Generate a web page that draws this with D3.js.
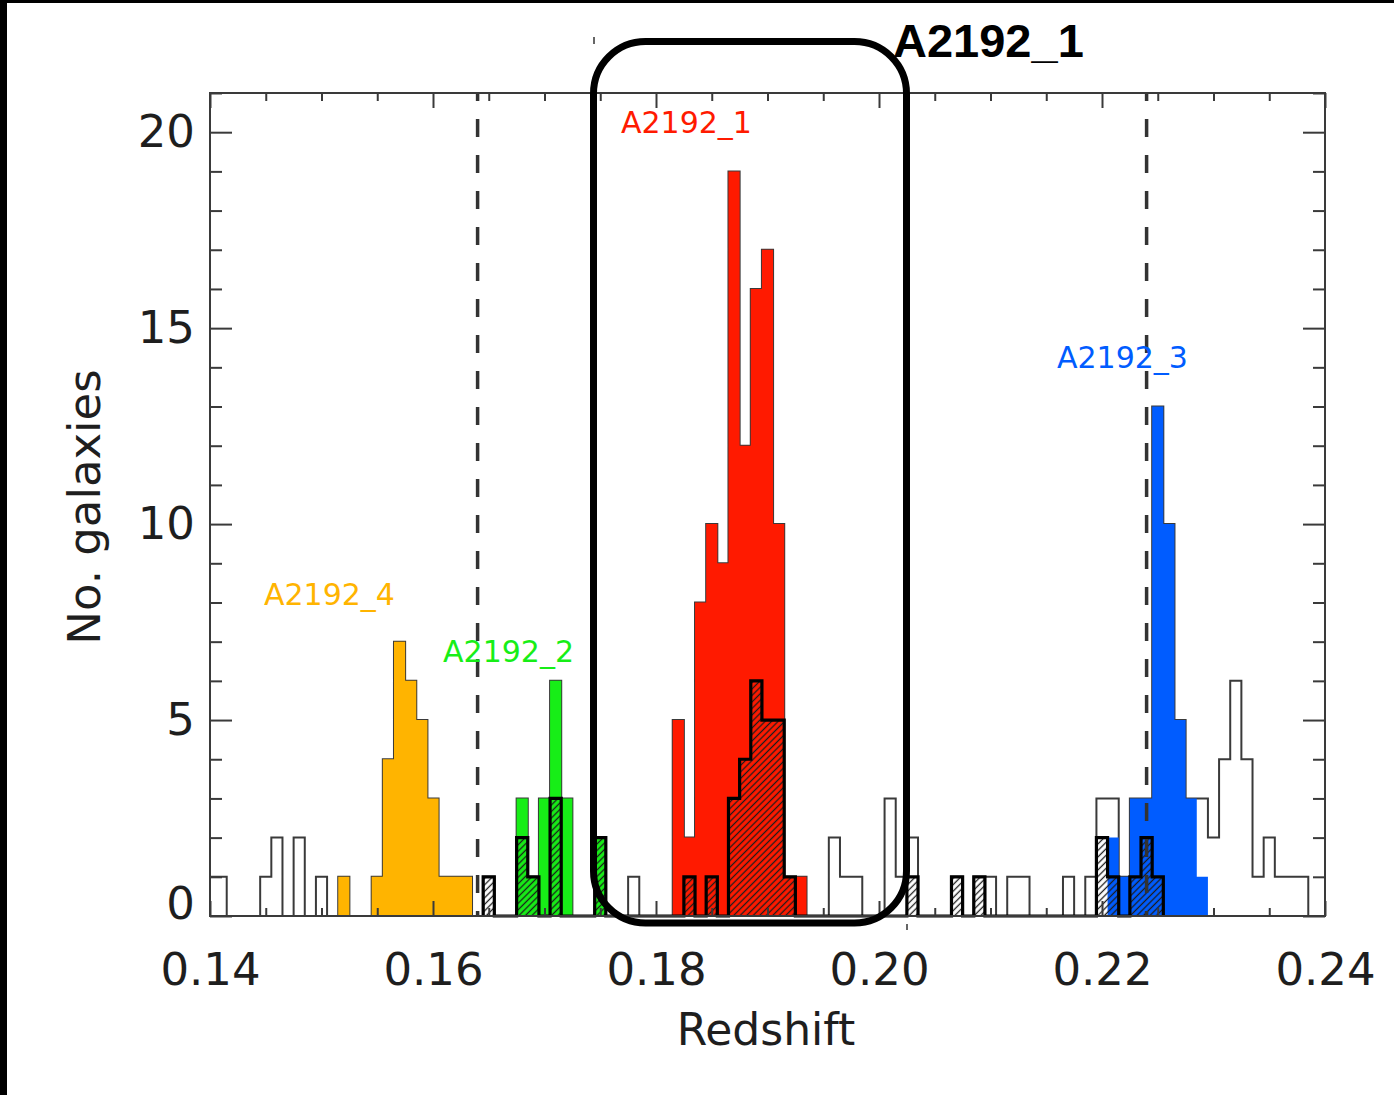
<!DOCTYPE html>
<html>
<head>
<meta charset="utf-8">
<script src="https://cdn.jsdelivr.net/npm/d3@7"></script>
<style>
  html, body { margin: 0; background: #fff; overflow: hidden; width: 1394px; height: 1095px; }
  svg { display: block; }
</style>
</head>
<body>
<svg id="chart" width="1394" height="1095"></svg>
<script>
// histogram bins: centres at binStart + i * binWidth
const binWidth = 0.001;
const binStart = 0.140;

// all galaxies (open histogram), 0.140 .. 0.240
const totalCounts = [
  1, 1, 0, 0, 0, 1, 2, 0, 2, 0,
  1, 0, 1, 0, 0, 1, 4, 7, 6, 5,
  3, 1, 1, 1, 0, 1, 0, 0, 3, 1,
  3, 6, 3, 0, 0, 2, 0, 0, 1, 0,
  0, 0, 5, 2, 8, 10, 9, 19, 12, 16,
  17, 10, 1, 1, 0, 0, 2, 1, 1, 0,
  0, 3, 1, 2, 0, 0, 0, 1, 0, 1,
  1, 0, 1, 1, 0, 0, 0, 1, 0, 1,
  3, 3, 1, 3, 3, 13, 10, 5, 3, 3,
  2, 4, 6, 4, 1, 2, 1, 1, 1, 0,
  0
];

// structures
const clusterNames = ['A2192_4', 'A2192_2', 'A2192_1', 'A2192_3'];
const clusterStarts = [0.152, 0.168, 0.182, 0.221];
const a2192_4 = [1, 0, 0, 1, 4, 7, 6, 5, 3, 1, 1, 1];
const a2192_2 = [3, 1, 3, 6, 3, 0, 0, 2];
const a2192_1 = [5, 2, 8, 10, 9, 19, 12, 16, 17, 10, 1, 1];
const a2192_3 = [2, 1, 3, 3, 13, 10, 5, 3, 1];

// hatched subset, 0.165 .. 0.225
const hatchStart = 0.165;
const hatchCounts = [
  1, 0, 0, 2, 1, 0, 3, 0, 0, 0,
  2, 0, 0, 0, 0, 0, 0, 0, 1, 0,
  1, 0, 3, 4, 6, 5, 5, 1, 0, 0,
  0, 0, 0, 0, 0, 0, 0, 0, 1, 0,
  0, 0, 1, 0, 1, 0, 0, 0, 0, 0,
  0, 0, 0, 0, 0, 2, 1, 0, 1, 2,
  1
];

const dashedAt = [0.164, 0.224];
const xTicks = [0.14, 0.16, 0.18, 0.20, 0.22, 0.24];
const yTicks = [0, 5, 10, 15, 20];

const clusterCounts = [a2192_4, a2192_2, a2192_1, a2192_3];
const clusterColors = ['#ffb400', '#17ee17', '#ff1a00', '#005cff'];

const tickFont = '"DejaVu Sans", sans-serif';
const ink = '#3a3a3a';

const x = d3.scaleLinear().domain([0.14, 0.24]).range([210, 1325]);
const y = d3.scaleLinear().domain([0, 21]).range([916, 93]);

const svg = d3.select('#chart');

svg.append('rect').attr('width', 1394).attr('height', 1095).attr('fill', '#fff');

// black strips from the original screenshot
svg.append('rect').attr('x', 0).attr('y', 0).attr('width', 7).attr('height', 1095).attr('fill', '#000');
svg.append('rect').attr('x', 0).attr('y', 0).attr('width', 1394).attr('height', 3).attr('fill', '#000');

const defs = svg.append('defs');
defs.append('clipPath').attr('id', 'plot')
  .append('rect')
  .attr('x', x.range()[0]).attr('y', y.range()[1] - 2)
  .attr('width', x.range()[1] - x.range()[0])
  .attr('height', y.range()[0] - y.range()[1] + 6);

defs.append('pattern')
  .attr('id', 'hatch')
  .attr('patternUnits', 'userSpaceOnUse')
  .attr('width', 4.6).attr('height', 10)
  .attr('patternTransform', 'rotate(45)')
  .append('line')
  .attr('x1', 2.3).attr('y1', 0).attr('x2', 2.3).attr('y2', 10)
  .attr('stroke', '#1c1c1c').attr('stroke-width', 1.3);

function stepEdges(start, counts) {
  const pts = counts.map((c, i) => ({ z: start + (i - 0.5) * binWidth, c }));
  pts.push({ z: start + (counts.length - 0.5) * binWidth, c: counts[counts.length - 1] });
  return pts;
}

function closed(pts) {
  return [{ z: pts[0].z, c: 0 }, ...pts, { z: pts[pts.length - 1].z, c: 0 }];
}

const stepLine = d3.line().curve(d3.curveStepAfter).x(d => x(d.z)).y(d => y(d.c));
const stepArea = d3.area().curve(d3.curveStepAfter).x(d => x(d.z)).y0(y(0)).y1(d => y(d.c));

const plot = svg.append('g').attr('clip-path', 'url(#plot)');

// open histogram of everything
plot.append('path')
  .attr('d', stepLine(closed(stepEdges(binStart, totalCounts))))
  .attr('fill', 'none')
  .attr('stroke', ink)
  .attr('stroke-width', 2);

// coloured structures
plot.selectAll('path.cluster')
  .data(clusterCounts)
  .join('path')
  .attr('class', 'cluster')
  .attr('d', (d, i) => stepArea(stepEdges(clusterStarts[i], d)))
  .attr('fill', (d, i) => clusterColors[i]);

// hatched subset
const hatchPts = stepEdges(hatchStart, hatchCounts);
plot.append('path')
  .attr('d', stepArea(hatchPts))
  .attr('fill', 'url(#hatch)');
plot.append('path')
  .attr('d', stepLine(closed(hatchPts)))
  .attr('fill', 'none')
  .attr('stroke', '#000')
  .attr('stroke-width', 3.2)
  .attr('stroke-linejoin', 'miter');

// dashed lines
svg.append('g')
  .selectAll('line')
  .data(dashedAt)
  .join('line')
  .attr('x1', d => x(d)).attr('x2', d => x(d))
  .attr('y1', y.range()[1]).attr('y2', y.range()[0])
  .attr('stroke', '#333')
  .attr('stroke-width', 3.5)
  .attr('stroke-dasharray', '18 18')
  .attr('stroke-dashoffset', 10);

// frame and ticks
svg.append('rect')
  .attr('x', x.range()[0]).attr('y', y.range()[1])
  .attr('width', x.range()[1] - x.range()[0])
  .attr('height', y.range()[0] - y.range()[1])
  .attr('fill', 'none')
  .attr('stroke', ink)
  .attr('stroke-width', 2);

const yMinor = d3.range(0, 22).filter(v => v % 5 !== 0);
const xMinor = d3.range(21).map(i => 0.14 + i * 0.005).filter((v, i) => i % 4 !== 0);

function styleAxis(g) {
  g.select('.domain').remove();
  g.selectAll('.tick line').attr('stroke', ink).attr('stroke-width', 2);
  g.selectAll('.tick text')
    .attr('fill', '#1e1e1e')
    .attr('font-family', tickFont)
    .attr('font-size', 45);
}

svg.append('g').attr('transform', `translate(${x.range()[0]},0)`)
  .call(d3.axisLeft(y).tickValues(yTicks).tickSize(-22).tickPadding(15).tickFormat(d3.format('d')))
  .call(styleAxis)
  .call(g => g.selectAll('.tick text').filter(d => d === 0).attr('dy', '0.05em'));
svg.append('g').attr('transform', `translate(${x.range()[0]},0)`)
  .call(d3.axisLeft(y).tickValues(yMinor).tickSize(-12).tickFormat(''))
  .call(styleAxis);
svg.append('g').attr('transform', `translate(${x.range()[1]},0)`)
  .call(d3.axisRight(y).tickValues(yTicks).tickSize(-22).tickFormat(''))
  .call(styleAxis);
svg.append('g').attr('transform', `translate(${x.range()[1]},0)`)
  .call(d3.axisRight(y).tickValues(yMinor).tickSize(-12).tickFormat(''))
  .call(styleAxis);

svg.append('g').attr('transform', `translate(0,${y.range()[0]})`)
  .call(d3.axisBottom(x).tickValues(xTicks).tickSize(-15).tickPadding(37).tickFormat(d3.format('.2f')))
  .call(styleAxis)
  .call(g => g.selectAll('.tick text').attr('dy', '0.71em'));
svg.append('g').attr('transform', `translate(0,${y.range()[0]})`)
  .call(d3.axisBottom(x).tickValues(xMinor).tickSize(-8).tickFormat(''))
  .call(styleAxis);
svg.append('g').attr('transform', `translate(0,${y.range()[1]})`)
  .call(d3.axisTop(x).tickValues(xTicks).tickSize(-15).tickFormat(''))
  .call(styleAxis);
svg.append('g').attr('transform', `translate(0,${y.range()[1]})`)
  .call(d3.axisTop(x).tickValues(xMinor).tickSize(-8).tickFormat(''))
  .call(styleAxis);

// axis titles
svg.append('text')
  .attr('x', 766).attr('y', 1045)
  .attr('text-anchor', 'middle')
  .attr('font-family', tickFont).attr('font-size', 44)
  .attr('fill', '#1e1e1e')
  .text('Redshift');
svg.append('text')
  .attr('transform', 'translate(100,507) rotate(-90)')
  .attr('text-anchor', 'middle')
  .attr('font-family', tickFont).attr('font-size', 45)
  .attr('fill', '#1e1e1e')
  .text('No. galaxies');

// structure labels (start redshift, count at baseline)
const labelAt = { A2192_4: [0.14484, 7.94], A2192_2: [0.1609, 6.48], A2192_1: [0.17686, 19.98], A2192_3: [0.21596, 13.98] };
svg.append('g')
  .selectAll('text')
  .data(clusterNames)
  .join('text')
  .attr('x', d => x(labelAt[d][0]))
  .attr('y', d => y(labelAt[d][1]))
  .attr('font-family', tickFont).attr('font-size', 30)
  .attr('fill', (d, i) => clusterColors[i])
  .text(d => d);

// highlight box and title
svg.append('rect')
  .attr('x', 593.5).attr('y', 41.5)
  .attr('width', 313).attr('height', 881.5)
  .attr('rx', 52).attr('ry', 52)
  .attr('fill', 'none')
  .attr('stroke', '#000')
  .attr('stroke-width', 7);
svg.append('line').attr('x1', 594).attr('x2', 594).attr('y1', 37).attr('y2', 44)
  .attr('stroke', '#333').attr('stroke-width', 1.5);
svg.append('line').attr('x1', 907).attr('x2', 907).attr('y1', 924).attr('y2', 930)
  .attr('stroke', '#333').attr('stroke-width', 1.5);

svg.append('text')
  .attr('x', 893).attr('y', 57)
  .attr('font-family', '"Liberation Sans", Arial, sans-serif')
  .attr('font-weight', 'bold')
  .attr('font-size', 47)
  .attr('fill', '#000')
  .text('A2192_1');
</script>
</body>
</html>
